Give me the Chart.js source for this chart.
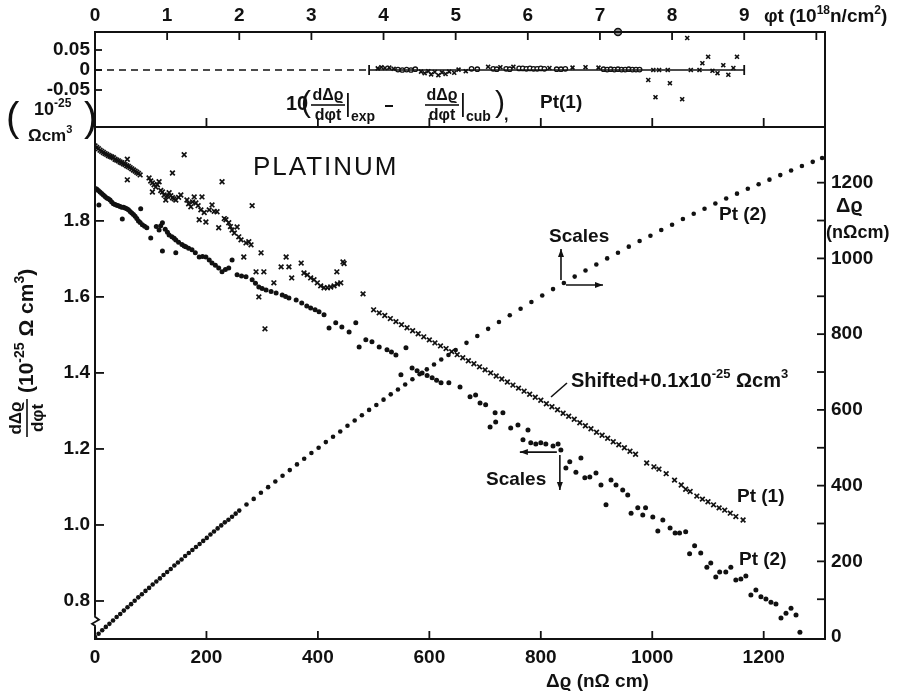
<!DOCTYPE html>
<html>
<head>
<meta charset="utf-8">
<script src="https://cdn.jsdelivr.net/npm/chart.js@4.4.1/dist/chart.umd.min.js"></script>
<style>
  html, body { margin: 0; padding: 0; background: #fff; }
  #caja { width: 908px; height: 696px; }
</style>
</head>
<body>
<div id="caja"><canvas id="chart_platino" width="908" height="696"></canvas></div>
<script>
// Pt(2): dano acumulado frente a la fluencia (escalas de arriba y derecha)
var fluenciaPt2 = [
    0.00, 0.05, 0.10, 0.15, 0.20, 0.25, 0.30, 0.35, 0.40, 0.45,
    0.50, 0.55, 0.60, 0.65, 0.70, 0.75, 0.80, 0.85, 0.90, 0.95,
    1.00, 1.05, 1.10, 1.15, 1.20, 1.25, 1.30, 1.35, 1.40, 1.45,
    1.50, 1.55, 1.60, 1.65, 1.70, 1.75, 1.80, 1.85, 1.90, 1.95,
    2.00, 2.10, 2.20, 2.30, 2.40, 2.50, 2.60, 2.70, 2.80, 2.90,
    3.00, 3.10, 3.20, 3.30, 3.40, 3.50, 3.60, 3.70, 3.80, 3.90,
    4.00, 4.10, 4.20, 4.30, 4.40, 4.50, 4.60, 4.70, 4.80, 4.90,
    5.00, 5.15, 5.30, 5.45, 5.60, 5.75, 5.90, 6.05, 6.20, 6.35,
    6.50, 6.65, 6.80, 6.95, 7.10, 7.25, 7.40, 7.55, 7.70, 7.85,
    8.00, 8.15, 8.30, 8.45, 8.60, 8.75, 8.90, 9.05, 9.20, 9.35,
    9.50, 9.65, 9.80, 9.95, 10.08
];
var rhoPt2 = [
    0, 9, 18, 27, 35, 44, 53, 61, 70, 79,
    87, 96, 105, 113, 122, 130, 139, 147, 155, 164,
    172, 180, 189, 197, 205, 214, 222, 230, 238, 246,
    254, 262, 271, 279, 287, 295, 303, 310, 318, 326,
    334, 350, 365, 381, 396, 411, 426, 441, 456, 471,
    486, 500, 515, 529, 543, 558, 572, 586, 600, 613,
    627, 641, 654, 667, 681, 694, 707, 720, 733, 745,
    758, 777, 795, 814, 832, 850, 867, 885, 902, 919,
    935, 952, 968, 984, 1000, 1015, 1031, 1046, 1060, 1075,
    1089, 1104, 1118, 1131, 1145, 1158, 1171, 1184, 1196, 1208,
    1220, 1232, 1244, 1255, 1265
];

// Pt(2): derivada frente al dano (escalas de abajo e izquierda)
var rhoDerPt2 = [
    0, 3, 6, 9, 12, 15, 18, 21, 24, 27,
    30, 33, 36, 39, 42, 45, 48, 51, 54, 57,
    60, 63, 66, 69, 72, 75, 78, 81, 85, 89,
    93, 7, 49, 82, 100, 121, 145, 110, 115, 118,
    121, 126, 130, 133, 138, 142, 145, 150, 156, 160,
    163, 168, 174, 180, 187, 193, 199, 205, 210, 216,
    222, 228, 234, 240, 246, 255, 263, 271, 282, 288,
    294, 300, 307, 316, 325, 336, 342, 348, 361, 371,
    380, 387, 395, 402, 411, 420, 432, 443, 456, 468,
    474, 486, 497, 510, 524, 532, 540, 549, 558, 569,
    578, 587, 596, 605, 613, 621, 635, 655, 673, 683,
    691, 701, 709, 718, 719, 732, 746, 759, 768, 777,
    782, 791, 800, 809, 822, 831, 836, 845, 852, 863,
    872, 879, 888, 899, 908, 917, 926, 935, 947, 956,
    962, 974, 983, 988, 1001, 1010, 1019, 1032, 1041, 1049,
    1060, 1067, 1076, 1087, 1098, 1105, 1114, 1121, 1132, 1141,
    1150, 1159, 1168, 1177, 1186, 1195, 1204, 1213, 1222, 1231,
    1240, 1249, 1258, 1265
];
var derPt2 = [
    1.885, 1.884, 1.880, 1.876, 1.872, 1.868, 1.864, 1.860, 1.858, 1.855,
    1.850, 1.845, 1.843, 1.841, 1.840, 1.838, 1.836, 1.836, 1.834, 1.832,
    1.829, 1.825, 1.821, 1.817, 1.812, 1.806, 1.800, 1.796, 1.790, 1.786,
    1.782, 1.842, 1.805, 1.832, 1.755, 1.721, 1.716, 1.785, 1.776, 1.787,
    1.795, 1.778, 1.770, 1.763, 1.758, 1.754, 1.750, 1.744, 1.738, 1.734,
    1.732, 1.728, 1.724, 1.716, 1.705, 1.706, 1.705, 1.697, 1.689, 1.683,
    1.676, 1.666, 1.672, 1.676, 1.697, 1.658, 1.655, 1.653, 1.645, 1.636,
    1.626, 1.622, 1.618, 1.614, 1.610, 1.605, 1.601, 1.597, 1.592, 1.584,
    1.576, 1.571, 1.566, 1.561, 1.553, 1.518, 1.532, 1.521, 1.508, 1.532,
    1.468, 1.487, 1.482, 1.468, 1.461, 1.455, 1.447, 1.395, 1.466, 1.413,
    1.406, 1.400, 1.393, 1.387, 1.381, 1.374, 1.374, 1.363, 1.337, 1.342,
    1.321, 1.316, 1.258, 1.295, 1.271, 1.295, 1.255, 1.263, 1.224, 1.250,
    1.216, 1.213, 1.216, 1.213, 1.208, 1.213, 1.197, 1.150, 1.166, 1.139,
    1.176, 1.124, 1.126, 1.137, 1.105, 1.053, 1.118, 1.105, 1.092, 1.079,
    1.031, 1.045, 1.026, 1.045, 1.021, 0.984, 1.013, 0.992, 0.979, 0.979,
    0.982, 0.924, 0.945, 0.926, 0.889, 0.900, 0.863, 0.876, 0.876, 0.889,
    0.855, 0.858, 0.866, 0.816, 0.829, 0.811, 0.805, 0.797, 0.792, 0.755,
    0.768, 0.781, 0.763, 0.718
];

// Pt(1): derivada desplazada +0.1
var rhoDerPt1 = [
    0, 3, 6, 9, 12, 15, 18, 21, 24, 27,
    30, 33, 36, 39, 42, 45, 48, 51, 54, 57,
    60, 63, 66, 69, 72, 75, 78, 81, 58, 58,
    97, 100, 103, 106, 109, 112, 115, 103, 118, 121,
    124, 127, 130, 133, 136, 139, 142, 145, 150, 154,
    160, 139, 165, 168, 172, 175, 178, 181, 185, 190,
    187, 192, 196, 199, 205, 210, 214, 219, 222, 228,
    232, 235, 240, 243, 246, 250, 255, 258, 262, 267,
    271, 276, 280, 282, 289, 294, 298, 303, 305, 321,
    334, 343, 348, 353, 370, 375, 381, 387, 393, 399,
    405, 411, 417, 423, 429, 435, 441, 434, 445, 447,
    481, 500, 510, 520, 530, 540, 550, 560, 570, 580,
    590, 600, 610, 620, 630, 640, 650, 660, 670, 680,
    690, 700, 710, 720, 730, 740, 750, 760, 770, 780,
    790, 800, 810, 820, 830, 840, 850, 860, 870, 880,
    890, 900, 910, 920, 930, 940, 950, 960, 970, 990,
    1003, 1012, 1025, 1040, 1052, 1060, 1068, 1080, 1090, 1100,
    1110, 1120, 1130, 1140, 1150, 1163
];
var derPt1 = [
    1.997, 1.993, 1.990, 1.986, 1.983, 1.980, 1.977, 1.975, 1.972, 1.970,
    1.968, 1.966, 1.962, 1.960, 1.958, 1.955, 1.953, 1.950, 1.948, 1.945,
    1.943, 1.940, 1.937, 1.934, 1.931, 1.928, 1.925, 1.921, 1.908, 1.962,
    1.913, 1.905, 1.900, 1.895, 1.889, 1.895, 1.903, 1.876, 1.880, 1.876,
    1.868, 1.855, 1.865, 1.874, 1.866, 1.861, 1.858, 1.855, 1.862, 1.868,
    1.974, 1.926, 1.855, 1.845, 1.837, 1.850, 1.863, 1.847, 1.840, 1.829,
    1.803, 1.863, 1.822, 1.797, 1.829, 1.842, 1.825, 1.824, 1.782, 1.903,
    1.806, 1.803, 1.795, 1.785, 1.776, 1.768, 1.784, 1.758, 1.750, 1.705,
    1.742, 1.745, 1.737, 1.840, 1.666, 1.600, 1.716, 1.666, 1.516, 1.637,
    1.679, 1.705, 1.679, 1.650, 1.689, 1.663, 1.658, 1.650, 1.645, 1.637,
    1.629, 1.624, 1.624, 1.626, 1.629, 1.634, 1.637, 1.666, 1.692, 1.688,
    1.608, 1.566, 1.558, 1.551, 1.543, 1.535, 1.527, 1.519, 1.511, 1.503,
    1.495, 1.487, 1.479, 1.471, 1.464, 1.456, 1.448, 1.440, 1.432, 1.424,
    1.416, 1.408, 1.400, 1.392, 1.384, 1.376, 1.368, 1.360, 1.352, 1.344,
    1.336, 1.328, 1.319, 1.311, 1.303, 1.294, 1.286, 1.278, 1.269, 1.261,
    1.253, 1.244, 1.236, 1.228, 1.219, 1.211, 1.203, 1.194, 1.186, 1.163,
    1.153, 1.147, 1.135, 1.118, 1.105, 1.094, 1.088, 1.076, 1.068, 1.061,
    1.053, 1.045, 1.039, 1.031, 1.022, 1.013
];

// residuos de Pt(1) respecto al ajuste cubico (panel de arriba)
var resCruzFluencia = [
    3.92, 3.97, 4.02, 4.08, 4.14, 4.52, 4.57, 4.62, 4.66, 4.71,
    4.76, 4.81, 4.86, 4.91, 4.98, 5.04, 5.14, 5.45, 5.62, 5.80,
    6.30, 6.62, 6.80, 6.98, 7.67, 7.77, 7.74, 7.82, 7.97, 7.94,
    8.14, 8.21, 8.26, 8.38, 8.42, 8.50, 8.56, 8.63, 8.71, 8.78,
    8.85, 8.90
];
var resCruz = [
    0.004, 0.007, 0.005, 0.006, 0.003, -0.004, -0.008, -0.003, -0.011, -0.005,
    -0.013, -0.006, -0.010, -0.004, -0.007, 0.001, -0.003, 0.008, 0.007, 0.008,
    0.005, 0.006, 0.007, 0.006, -0.025, -0.068, 0.000, 0.000, -0.033, 0.000,
    -0.073, 0.080, 0.000, 0.000, 0.017, 0.033, -0.002, -0.008, 0.012, -0.012,
    0.005, 0.033
];
var resCircFluencia = [
    4.20, 4.26, 4.32, 4.38, 4.44, 5.22, 5.30, 5.52, 5.57, 5.70,
    5.75, 5.88, 5.93, 5.98, 6.03, 6.08, 6.13, 6.18, 6.23, 6.40,
    6.46, 6.52, 7.05, 7.10, 7.15, 7.20, 7.25, 7.30, 7.35, 7.40,
    7.45, 7.50, 7.55
];
var resCirc = [
    0.001, 0.000, 0.001, 0.000, 0.002, 0.003, 0.002, 0.003, 0.002, 0.003,
    0.002, 0.004, 0.004, 0.003, 0.004, 0.003, 0.003, 0.004, 0.003, 0.002,
    0.002, 0.003, 0.002, 0.001, 0.002, 0.001, 0.002, 0.001, 0.001, 0.002,
    0.001, 0.001, 0.001
];
var ceroTrazos = [0, 3.8];     // tramo a trazos del cero
var ceroLinea = [3.8, 9.0];    // tramo continuo con topes
var marcaEje = [7.25];         // circulito sobre el eje superior

// etiquetas de los ejes
var ticksFluencia = [0, 1, 2, 3, 4, 5, 6, 7, 8, 9, 10];
var ticksRho = [0, 200, 400, 600, 800, 1000, 1200];
var ticksDer = [0.8, 1.0, 1.2, 1.4, 1.6, 1.8];
var ticksRes = [-0.05, 0, 0.05];
var ticksRhoDcha = [0, 100, 200, 300, 400, 500, 600, 700, 800, 900, 1000, 1100, 1200];

var NEGRO = '#111';
var FUENTE = '"Liberation Sans", "DejaVu Sans", Arial, sans-serif';

function puntos(xs, ys) {
    return xs.map(function(v, i) { return { x: v, y: ys[i] }; });
}

function linea(ctx, x1, y1, x2, y2) {
    ctx.beginPath();
    ctx.moveTo(x1, y1);
    ctx.lineTo(x2, y2);
    ctx.stroke();
}

function flecha(ctx, x1, y1, x2, y2) {
    var ang = Math.atan2(y2 - y1, x2 - x1);
    linea(ctx, x1, y1, x2, y2);
    ctx.beginPath();
    ctx.moveTo(x2, y2);
    ctx.lineTo(x2 - 8 * Math.cos(ang) + 3 * Math.sin(ang), y2 - 8 * Math.sin(ang) - 3 * Math.cos(ang));
    ctx.lineTo(x2 - 8 * Math.cos(ang) - 3 * Math.sin(ang), y2 - 8 * Math.sin(ang) + 3 * Math.cos(ang));
    ctx.closePath();
    ctx.fill();
}

// texto por trozos: [texto, tamano, desplazamiento vertical, peso]
function tramo(ctx, x, y, partes) {
    partes.forEach(function(p) {
        ctx.font = (p[3] || 'bold') + ' ' + p[1] + 'px ' + FUENTE;
        ctx.fillText(p[0], x, y + (p[2] || 0));
        x += ctx.measureText(p[0]).width;
    });
    return x;
}

function fraccion(ctx, x, y, w, num, den, size) {
    ctx.font = 'bold ' + size + 'px ' + FUENTE;
    ctx.textAlign = 'center';
    ctx.fillText(num, x + w / 2, y - size * 0.6);
    ctx.fillText(den, x + w / 2, y + size * 0.65);
    ctx.fillRect(x, y - 0.8, w, 1.6);
    ctx.textAlign = 'left';
}

var decorado = {
    id: 'decorado',
    afterDraw: function(chart) {
        var ctx = chart.ctx;
        var a = chart.chartArea;
        var sx = chart.scales.x, st = chart.scales.xt, sy = chart.scales.y;
        var sr = chart.scales.yR, se = chart.scales.yRes;
        ctx.save();
        ctx.strokeStyle = NEGRO;
        ctx.fillStyle = NEGRO;
        ctx.lineWidth = 2;

        // marcos de los dos paneles
        ctx.strokeRect(a.left, se.top, a.right - a.left, se.bottom - se.top);
        ctx.strokeRect(a.left, sy.top, a.right - a.left, sy.bottom - sy.top);

        // marcas de los ejes hacia dentro
        ctx.lineWidth = 1.8;
        ticksRho.forEach(function(v) {
            if (v === 0) return;
            var px = sx.getPixelForValue(v);
            linea(ctx, px, a.bottom, px, a.bottom - 8);
            linea(ctx, px, sy.top, px, sy.top - 9);
        });
        ticksFluencia.forEach(function(v) {
            if (v === 0) return;
            var px = st.getPixelForValue(v);
            linea(ctx, px, a.top, px, a.top + 8);
        });
        ticksDer.forEach(function(v) {
            var py = sy.getPixelForValue(v);
            linea(ctx, a.left, py, a.left + 9, py);
        });
        ticksRes.forEach(function(v) {
            var py = se.getPixelForValue(v);
            linea(ctx, a.left, py, a.left + 7, py);
        });
        ticksRhoDcha.forEach(function(v) {
            if (v === 0) return;
            var py = sr.getPixelForValue(v);
            linea(ctx, a.right, py, a.right - 8, py);
        });

        // corte del eje izquierdo
        var pc = sy.getPixelForValue(0.748);
        ctx.fillStyle = '#fff';
        ctx.fillRect(a.left - 3, pc - 6, 6, 12);
        ctx.fillStyle = NEGRO;
        ctx.beginPath();
        ctx.moveTo(a.left, pc - 7);
        ctx.lineTo(a.left, pc - 4);
        ctx.lineTo(a.left + 4, pc - 1);
        ctx.lineTo(a.left - 3, pc + 3);
        ctx.lineTo(a.left, pc + 5);
        ctx.lineTo(a.left, pc + 8);
        ctx.stroke();

        ctx.textBaseline = 'middle';
        ctx.textAlign = 'left';

        // titulos de los ejes
        tramo(ctx, 764, 17, [['\u03c6t (10', 19], ['18', 12, -6], ['n/cm', 19], ['2', 12, -6], [')', 19]]);
        tramo(ctx, 836, 206, [['\u0394\u03f1', 20]]);
        tramo(ctx, 826, 233, [['(n\u03a9cm)', 18]]);
        tramo(ctx, 546, 682, [['\u0394\u03f1 (n\u03a9 cm)', 19]]);

        // unidades del panel de residuos
        tramo(ctx, 6, 120, [['(', 40, 0, 'normal']]);
        tramo(ctx, 34, 110, [['10', 18], ['-25', 12, -6]]);
        tramo(ctx, 28, 136, [['\u03a9cm', 17], ['3', 11, -6]]);
        tramo(ctx, 84, 120, [[')', 40, 0, 'normal']]);

        // titulo girado del eje izquierdo
        ctx.save();
        ctx.translate(27, 437);
        ctx.rotate(-Math.PI / 2);
        fraccion(ctx, 0, 0, 38, 'd\u0394\u03f1', 'd\u03c6t', 17);
        tramo(ctx, 44, 0, [['(10', 21], ['-25', 14, -7], [' \u03a9 cm', 21], ['3', 14, -7], [')', 21]]);
        ctx.restore();

        // formula del panel de arriba
        tramo(ctx, 286, 104, [['10', 20]]);
        tramo(ctx, 301, 104, [['(', 30, 0, 'normal']]);
        fraccion(ctx, 311, 105, 34, 'd\u0394\u03f1', 'd\u03c6t', 16);
        ctx.fillRect(347, 93, 1.8, 24);
        tramo(ctx, 351, 117, [['exp', 14]]);
        ctx.fillRect(385, 105, 8, 2);
        fraccion(ctx, 425, 105, 34, 'd\u0394\u03f1', 'd\u03c6t', 16);
        ctx.fillRect(462, 93, 1.8, 24);
        tramo(ctx, 466, 117, [['cub', 14]]);
        tramo(ctx, 495, 104, [[')', 30, 0, 'normal']]);
        tramo(ctx, 504, 116, [[',', 16]]);
        tramo(ctx, 540, 103, [['Pt(1)', 19]]);

        // rotulos dentro del grafico
        ctx.letterSpacing = '2px';
        tramo(ctx, 253, 168, [['PLATINUM', 26, 0, 'normal']]);
        ctx.letterSpacing = '0px';
        tramo(ctx, 719, 215, [['Pt (2)', 19]]);
        tramo(ctx, 737, 497, [['Pt (1)', 19]]);
        tramo(ctx, 739, 560, [['Pt (2)', 19]]);
        tramo(ctx, 549, 237, [['Scales', 19]]);
        tramo(ctx, 486, 480, [['Scales', 19]]);
        tramo(ctx, 571, 381, [['Shifted+0.1x10', 20], ['-25', 13, -7], [' \u03a9cm', 20], ['3', 13, -7]]);

        // flechas de escalas, ancladas a las curvas
        ctx.lineWidth = 1.6;
        var ox = st.getPixelForValue(6.46), oy = sr.getPixelForValue(935);
        flecha(ctx, ox, oy - 3, ox, oy - 34);
        flecha(ctx, ox + 5, oy + 2, ox + 42, oy + 2);
        var qx = sx.getPixelForValue(836), qy = sy.getPixelForValue(1.197);
        flecha(ctx, qx - 4, qy + 2, qx - 41, qy + 2);
        flecha(ctx, qx - 1, qy + 5, qx - 1, qy + 40);
        linea(ctx, 551, 397, 567, 383);

        ctx.restore();
    }
};

function anchoFijo(w) { return function(s) { s.width = w; }; }
function altoFijo(h) { return function(s) { s.height = h; }; }
function fijarTicks(lista) { return function(s) { s.ticks = lista.map(function(v) { return { value: v }; }); }; }

var fuenteTicks = { family: FUENTE, size: 19, weight: 'bold' };
var sinRejilla = { display: false, drawTicks: false };
var sinBorde = { display: false };

window.onload = function() {
    var datos = {
        datasets: [{
            label: 'Pt(2) dano',
            data: puntos(fluenciaPt2, rhoPt2),
            xAxisID: 'xt', yAxisID: 'yR',
            showLine: false, pointRadius: 2.3, pointBorderWidth: 0,
            pointBackgroundColor: NEGRO
        }, {
            label: 'Pt(2) derivada',
            data: puntos(rhoDerPt2, derPt2),
            xAxisID: 'x', yAxisID: 'y',
            showLine: false, pointRadius: 2.5, pointBorderWidth: 0,
            pointBackgroundColor: NEGRO
        }, {
            label: 'Pt(1) derivada',
            data: puntos(rhoDerPt1, derPt1),
            xAxisID: 'x', yAxisID: 'y',
            showLine: false, pointStyle: 'crossRot', pointRadius: 3.3,
            pointBorderWidth: 1.7, pointBorderColor: NEGRO
        }, {
            label: 'cero',
            data: puntos(ceroTrazos, [0, 0]),
            xAxisID: 'xt', yAxisID: 'yRes',
            showLine: true, borderColor: NEGRO, borderWidth: 1.6, borderDash: [7, 5], pointRadius: 0
        }, {
            label: 'cero continuo',
            data: puntos(ceroLinea, [0, 0]),
            xAxisID: 'xt', yAxisID: 'yRes',
            showLine: true, borderColor: NEGRO, borderWidth: 1.6,
            pointStyle: 'line', pointRotation: 90, pointRadius: 5,
            pointBorderWidth: 1.8, pointBorderColor: NEGRO
        }, {
            label: 'residuos x',
            data: puntos(resCruzFluencia, resCruz),
            xAxisID: 'xt', yAxisID: 'yRes',
            showLine: false, pointStyle: 'crossRot', pointRadius: 2.8,
            pointBorderWidth: 1.6, pointBorderColor: NEGRO
        }, {
            label: 'residuos o',
            data: puntos(resCircFluencia, resCirc),
            xAxisID: 'xt', yAxisID: 'yRes',
            showLine: false, pointStyle: 'circle', pointRadius: 2.2,
            pointBorderWidth: 1.3, pointBorderColor: NEGRO, pointBackgroundColor: '#fff'
        }, {
            label: 'marca',
            data: puntos(marcaEje, [0.095]),
            xAxisID: 'xt', yAxisID: 'yRes', clip: false,
            showLine: false, pointStyle: 'circle', pointRadius: 3.5,
            pointBorderWidth: 1.5, pointBorderColor: NEGRO, pointBackgroundColor: '#999'
        }]
    };

    var config = {
        type: 'scatter',
        data: datos,
        plugins: [decorado],
        options: {
            responsive: false,
            animation: false,
            devicePixelRatio: 1,
            layout: { padding: 0 },
            plugins: { legend: { display: false }, tooltip: { enabled: false } },
            scales: {
                x: {
                    type: 'linear', position: 'bottom', min: 0, max: 1310,
                    grid: sinRejilla, border: sinBorde,
                    afterBuildTicks: fijarTicks(ticksRho), afterFit: altoFijo(57),
                    ticks: { font: fuenteTicks, color: NEGRO, padding: 7, autoSkip: false, maxRotation: 0,
                        callback: function(v) { return String(v); } }
                },
                xt: {
                    type: 'linear', position: 'top', min: 0, max: 10.12,
                    grid: sinRejilla, border: sinBorde,
                    afterBuildTicks: fijarTicks(ticksFluencia), afterFit: altoFijo(32),
                    ticks: { font: fuenteTicks, color: NEGRO, padding: 5, autoSkip: false, maxRotation: 0,
                        callback: function(v) { return v <= 9 ? String(v) : ''; } }
                },
                yRes: {
                    type: 'linear', position: 'left', stack: 'izq', stackWeight: 95, weight: 2,
                    min: -0.1425, max: 0.095,
                    grid: sinRejilla, border: sinBorde,
                    afterBuildTicks: fijarTicks(ticksRes), afterFit: anchoFijo(95),
                    ticks: { font: fuenteTicks, color: NEGRO, padding: 5, autoSkip: false,
                        callback: function(v) { return v === 0 ? '0' : v.toFixed(2); } }
                },
                y: {
                    type: 'linear', position: 'left', stack: 'izq', stackWeight: 512, weight: 1,
                    min: 0.7, max: 2.047,
                    grid: sinRejilla, border: sinBorde,
                    afterBuildTicks: fijarTicks(ticksDer), afterFit: anchoFijo(95),
                    ticks: { font: fuenteTicks, color: NEGRO, padding: 5, autoSkip: false,
                        callback: function(v) { return v.toFixed(1); } }
                },
                yRtop: {
                    type: 'linear', position: 'right', stack: 'dcha', stackWeight: 95, weight: 0,
                    min: 0, max: 1,
                    grid: sinRejilla, border: sinBorde,
                    afterFit: anchoFijo(83),
                    ticks: { display: false }
                },
                yR: {
                    type: 'linear', position: 'right', stack: 'dcha', stackWeight: 512, weight: 1,
                    min: -5, max: 1347,
                    grid: sinRejilla, border: sinBorde,
                    afterBuildTicks: fijarTicks(ticksRhoDcha), afterFit: anchoFijo(83),
                    ticks: { font: fuenteTicks, color: NEGRO, padding: 6, autoSkip: false,
                        callback: function(v) { return v % 200 === 0 ? String(v) : ''; } }
                }
            }
        }
    };

    // creamos el chart
    var grafico = new Chart(document.getElementById('chart_platino'), config);
};
</script>
</body>
</html>
